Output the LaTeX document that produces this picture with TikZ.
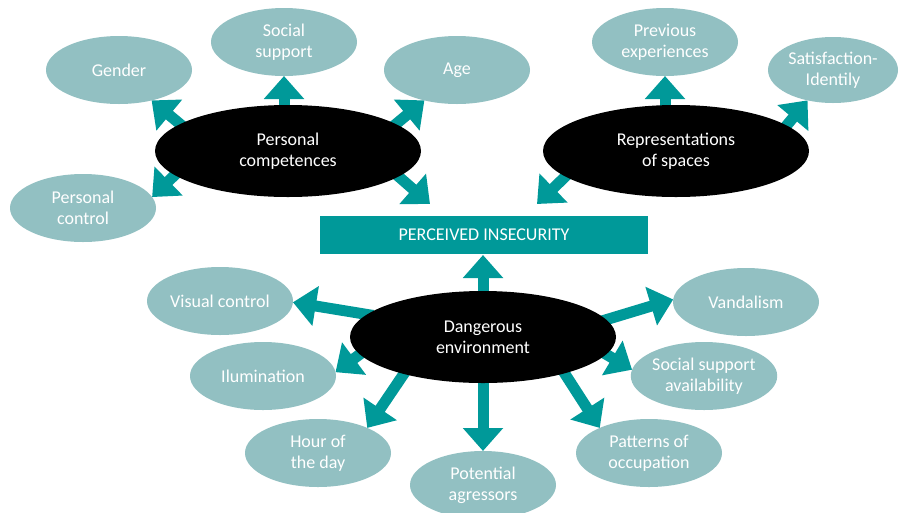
\documentclass[tikz,border=0pt]{standalone}
\usepackage{fontspec}
\setmainfont{Carlito}
\usetikzlibrary{arrows.meta,shapes.geometric}
\pgfdeclarelayer{bg}
\pgfsetlayers{bg,main}
\definecolor{tealc}{RGB}{0,153,153}
\definecolor{lightc}{RGB}{146,192,194}
\begin{document}
\begin{tikzpicture}[x=1pt,y=-1pt,
  txt/.style={text=white,align=center,font=\fontsize{18}{21}\selectfont},
  leaf/.style={txt,ellipse,fill=lightc,minimum width=146pt,minimum height=68pt,inner sep=0pt,outer sep=0pt},
  hub/.style={txt,ellipse,fill=black,minimum width=266pt,minimum height=92pt,inner sep=0pt,outer sep=0pt},
  mainbox/.style={txt,rectangle,fill=tealc,minimum width=328pt,minimum height=38pt,inner sep=0pt,outer sep=0pt},
  link/.style={draw=tealc,line width=11pt,shorten <=-6pt,-{Triangle[width=39pt,length=23pt]}}]
\useasboundingbox (0,0) rectangle (899,512);
\clip (0,0) rectangle (899,512);

% hubs
\node[hub] (pc) at (288,151) {Personal\\competences};
\node[hub] (rs) at (676,151) {Representations\\of spaces};
\node[hub] (de) at (483,337) {Dangerous\\environment};

% central box
\node[mainbox] (rect) at (484,235) {PERCEIVED INSECURITY};

% leaves
\node[leaf] (gender) at (119,70) {Gender};
\node[leaf] (social) at (284,42) {Social\\support};
\node[leaf] (age) at (457,70) {Age};
\node[leaf] (pctrl) at (83,208) {Personal\\control};
\node[leaf] (prev) at (665,42) {Previous\\experiences};
\node[leaf,minimum width=130pt,minimum height=66pt] (satis) at (833,70) {Satisfaction-\\Identily};
\node[leaf] (vc) at (220,301) {Visual control};
\node[leaf] (ilum) at (263,376) {Ilumination};
\node[leaf] (hour) at (318,453) {Hour of\\the day};
\node[leaf] (pot) at (483,485) {Potential\\agressors};
\node[leaf] (pat) at (649,453) {Patterns of\\occupation};
\node[leaf] (ssa) at (704,376) {Social support\\availability};
\node[leaf] (vand) at (746,302) {Vandalism};

\coordinate (pin1) at (430,204);
\coordinate (pin2) at (537,204);

\begin{pgfonlayer}{bg}
\draw[link] (pc.166) -- (gender.-43);
\draw[link] (social.south |- pc.north) -- (social.south);
\draw[link] (pc.14) -- (age.-137);
\draw[link] (pc.192.5) -- (pctrl.9);
\draw[link] (pc.-13) -- (pin1);
\draw[link] (prev.south |- rs.north) -- (prev.south);
\draw[link] (rs.13.4) -- (satis.230);
\draw[link] (rs.193) -- (pin2);
\draw[link,shorten >=1pt] (de.north) -- (de.north |- rect.south);
\draw[link] (de.169) -- (vc.-1);
\draw[link] (de.188.5) -- (ilum.3);
\draw[link] (de.205.6) -- (hour.27);
\draw[link] (de.south) -- (pot.north);
\draw[link] (de.-24) -- (pat.153);
\draw[link] (de.-8.6) -- (ssa.175);
\draw[link] (de.8.6) -- (vand.178);
\end{pgfonlayer}
\end{tikzpicture}
\end{document}
